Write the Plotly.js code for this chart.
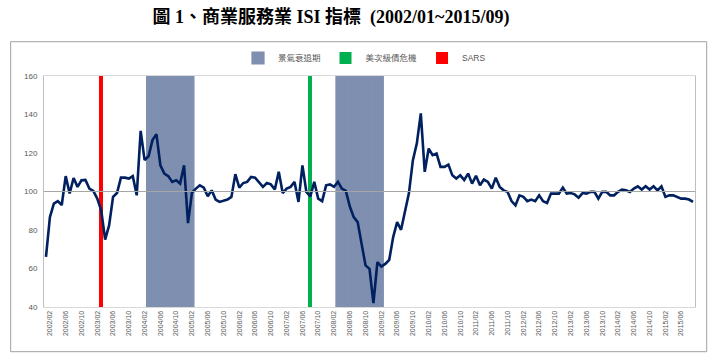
<!DOCTYPE html>
<html>
<head>
<meta charset="utf-8">
<script src="https://cdn.plot.ly/plotly-3.0.1.min.js"></script>
<style>html,body{margin:0;padding:0;background:#fff;}#chart{width:715px;height:363px;}</style>
</head>
<body>
<div id="chart"></div>
<script>
// Monthly categories 2002/01 ~ 2015/09
const months = [];
for (let y = 2002; y <= 2015; y++) {
  for (let m = 1; m <= 12; m++) {
    if (y === 2015 && m > 9) break;
    months.push(y + '/' + (m < 10 ? '0' + m : '' + m));
  }
}

// ISI index values (2002/01 .. 2015/09)
const isiValues = [
  66, 86.7, 93.7, 95, 93, 108, 99, 107, 102.4, 105.8, 106, 101.5,
  100.3, 96.3, 90.2, 75, 82.4, 97.2, 99.2, 107.2, 107.2, 106.7, 108, 98,
  131.5, 116.3, 118.3, 126.7, 129.8, 113.6, 109.3, 108, 105, 105.8, 104.1, 113.6,
  83.6, 99.4, 101.5, 103.2, 102, 97.5, 100.6, 95.8, 94.6, 95.4, 95.8, 97.2,
  109, 102, 104.4, 105, 107.6, 107.2, 104.6, 102.4, 104.4, 103.7, 101, 110.2,
  99.2, 101.5, 102.4, 105, 94.6, 113.6, 99.8, 97.5, 105, 96.3, 95, 103.2,
  103.7, 102.4, 105, 101.5, 100.3, 92.3, 86.7, 84.1, 72.8, 61.6, 59.8, 42,
  63.3, 61, 62.4, 64.5, 76.3, 84.1, 80.1, 90.2, 99.2, 116.3, 125, 140.6,
  110.2, 122.3, 118.9, 119.7, 112.8, 112.8, 114, 108.4, 106.7, 108.4, 106, 109.3,
  104.1, 108.2, 103.2, 106.2, 105, 101.5, 107.2, 102.4, 100.6, 99.8, 95, 92.8,
  98, 97.2, 95, 95.8, 95, 98, 95, 94, 98.9, 98.9, 98.9, 102,
  98.9, 99.2, 98.5, 96.8, 99.2, 98.9, 99.8, 99.8, 96.3, 99.8, 99.8, 98,
  98, 99.8, 101, 100.6, 99.8, 101.5, 102.7, 101, 102.7, 101, 102.7, 100.6,
  102.7, 97.2, 98, 98, 97.2, 96.3, 96.3, 95.8, 94.6
];

// Recession periods (景氣衰退期)
const recessionMonths = [
  '2004/03','2004/04','2004/05','2004/06','2004/07','2004/08','2004/09','2004/10','2004/11','2004/12','2005/01','2005/02',
  '2008/03','2008/04','2008/05','2008/06','2008/07','2008/08','2008/09','2008/10','2008/11','2008/12','2009/01','2009/02'
];
const recessionValues = [160,160,160,160,160,160,160,160,160,160,160,160,160,160,160,160,160,160,160,160,160,160,160,160];

// Subprime crisis (美次級債危機)
const subprimeMonths = ['2007/08'];
const subprimeValues = [160];

// SARS
const sarsMonths = ['2003/03'];
const sarsValues = [160];

// Reference level
const refX = [0, 1];
const refY = [100, 100];

// Tick labels
const tickLabels = [
  '2002/02','2002/06','2002/10','2003/02','2003/06','2003/10','2004/02','2004/06','2004/10',
  '2005/02','2005/06','2005/10','2006/02','2006/06','2006/10','2007/02','2007/06','2007/10',
  '2008/02','2008/06','2008/10','2009/02','2009/06','2009/10','2010/02','2010/06','2010/10',
  '2011/02','2011/06','2011/10','2012/02','2012/06','2012/10','2013/02','2013/06','2013/10',
  '2014/02','2014/06','2014/10','2015/02','2015/06'
];
const yTicks = [40, 60, 80, 100, 120, 140, 160];

const sansFont = '"Liberation Sans", "Noto Sans CJK TC", sans-serif';
const gray = '#595959';

const traces = [
  {type:'bar', name:'景氣衰退期', x: recessionMonths, y: recessionValues,
   marker:{color:'#7F8FB0', line:{color:'#7F8FB0', width:1.2}}, hoverinfo:'skip'},
  {type:'bar', name:'美次級債危機', x: subprimeMonths, y: subprimeValues,
   marker:{color:'#00B050', line:{width:0}}, hoverinfo:'skip'},
  {type:'bar', name:'SARS', x: sarsMonths, y: sarsValues,
   marker:{color:'#FF0000', line:{width:0}}, hoverinfo:'skip'},
  {type:'scatter', mode:'lines', x: refX, y: refY, xaxis:'x2', showlegend:false,
   line:{color:'#A6A6A6', width:1}, hoverinfo:'skip'},
  {type:'scatter', mode:'lines', name:'ISI', x: months, y: isiValues, showlegend:false,
   line:{color:'#002060', width:2.6}}
];

const layout = {
  width: 715, height: 363,
  margin: {l:44, r:20, t:76, b:56, pad:0},
  paper_bgcolor:'#ffffff', plot_bgcolor:'#ffffff',
  barmode:'overlay', bargap:0,
  title: {
    text:'<b>圖 1、商業服務業 ISI 指標  (2002/01~2015/09)</b>',
    font:{family:'"Liberation Serif", "Noto Sans CJK TC", serif', size:18, color:'#000'},
    x:0.463, xref:'container', xanchor:'center',
    y:0.953, yref:'container', yanchor:'middle'
  },
  showlegend:true,
  legend: {
    orientation:'h', x:0.298, xanchor:'left', y:1.078, yanchor:'middle',
    font:{family:sansFont, size:8.5, color:gray},
    bgcolor:'rgba(0,0,0,0)', traceorder:'normal'
  },
  xaxis: {
    type:'category', categoryorder:'array', categoryarray: months,
    range:[-0.5, months.length - 0.5],
    tickmode:'array', tickvals: tickLabels, ticktext: tickLabels,
    tickangle:-90, tickfont:{family:sansFont, size:7, color:gray},
    showgrid:false, zeroline:false, showline:true, linecolor:'#d9d9d9', linewidth:1, mirror:true,
    ticks:'', fixedrange:true
  },
  xaxis2: {overlaying:'x', type:'linear', range:[0,1], visible:false, fixedrange:true},
  yaxis: {
    range:[40,160], tickmode:'array', tickvals: yTicks,
    tickfont:{family:sansFont, size:8, color:gray},
    showgrid:false, zeroline:false, showline:true, linecolor:'#bfbfbf', linewidth:1, mirror:true,
    ticks:'', ticklabelstandoff:4, fixedrange:true
  },
  shapes: [
    {type:'rect', xref:'paper', yref:'paper', x0:-0.0512, x1:1.018, y0:-0.1935, y1:1.1485,
     line:{color:'#A0A0A0', width:1}, fillcolor:'rgba(0,0,0,0)', layer:'above'}
  ]
};

Plotly.newPlot('chart', traces, layout, {displayModeBar:false, staticPlot:true});
</script>
</body>
</html>
